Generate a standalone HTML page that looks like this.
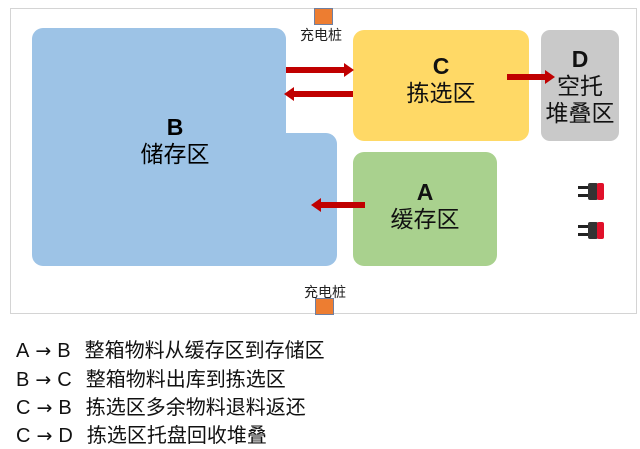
<!DOCTYPE html>
<html><head><meta charset="utf-8"><style>
body{margin:0;width:640px;height:449px;background:#fff;position:relative;overflow:hidden;font-family:"Liberation Sans","Noto Sans CJK SC",sans-serif;}
.a{position:absolute;}
.box{position:absolute;border-radius:11px;text-align:center;color:#111;}
.t{font-size:23px;line-height:27px;}
.lg{position:absolute;left:16px;font-size:20px;color:#111;white-space:pre;}
.ar{display:inline-block;font-family:"DejaVu Sans",sans-serif;font-size:19px;margin:0 6px;}
.c{display:inline-block;margin-left:14px;}
</style></head><body>
<div class="a" style="left:10px;top:8px;width:625px;height:304px;border:1px solid #d4d4d4;"></div>
<div class="box" style="left:32px;top:28px;width:254px;height:130px;background:#9dc3e6;"></div>
<div class="box" style="left:32px;top:133px;width:305px;height:133px;background:#9dc3e6;"></div>
<div class="a t" style="left:115px;top:114px;width:120px;text-align:center;"><b>B</b><br>储存区</div>
<div class="box t" style="left:353px;top:30px;width:176px;height:111px;background:#ffd966;"><div style="padding-top:23px"><b>C</b><br>拣选区</div></div>
<div class="box t" style="left:541px;top:30px;width:78px;height:111px;background:#c9c9c9;border-radius:9px;"><div style="padding-top:16px"><b>D</b><br>空托<br>堆叠区</div></div>
<div class="box t" style="left:353px;top:152px;width:144px;height:114px;background:#a9d18e;"><div style="padding-top:27px"><b>A</b><br>缓存区</div></div>
<div class="a" style="left:314px;top:8px;width:17px;height:15px;background:#ed7d31;border:1px solid #6f7fa0;"></div>
<div class="a" style="left:300px;top:25px;font-size:14px;color:#222;">充电桩</div>
<div class="a" style="left:315px;top:298px;width:17px;height:15px;background:#ed7d31;border:1px solid #6f7fa0;"></div>
<div class="a" style="left:304px;top:282px;font-size:14px;color:#222;">充电桩</div>
<svg class="a" style="left:0;top:0" width="640" height="320">
<g fill="#c00000">
<rect x="286" y="67" width="60" height="6"/><polygon points="344,63 354,70 344,77"/>
<rect x="292" y="91" width="61" height="6"/><polygon points="294,87 284,94 294,101"/>
<rect x="507" y="74" width="40" height="6"/><polygon points="545,70 555,77 545,84"/>
<rect x="320" y="202" width="45" height="6"/><polygon points="321,198 311,205 321,212"/>
</g>
<g>
<rect x="578" y="186" width="12" height="3" fill="#222"/><rect x="578" y="194" width="12" height="3" fill="#222"/>
<rect x="588" y="183" width="10" height="17" fill="#333" rx="2"/><rect x="597" y="183" width="7" height="17" fill="#e0102a" rx="2"/>
<rect x="578" y="225" width="12" height="3" fill="#222"/><rect x="578" y="233" width="12" height="3" fill="#222"/>
<rect x="588" y="222" width="10" height="17" fill="#333" rx="2"/><rect x="597" y="222" width="7" height="17" fill="#e0102a" rx="2"/>
</g>
</svg>
<div class="lg" style="top:334px;">A<span class="ar">→</span>B<span class="c">整箱物料从缓存区到存储区</span></div>
<div class="lg" style="top:363px;">B<span class="ar">→</span>C<span class="c">整箱物料出库到拣选区</span></div>
<div class="lg" style="top:391px;">C<span class="ar">→</span>B<span class="c">拣选区多余物料退料返还</span></div>
<div class="lg" style="top:419px;">C<span class="ar">→</span>D<span class="c">拣选区托盘回收堆叠</span></div>
</body></html>
